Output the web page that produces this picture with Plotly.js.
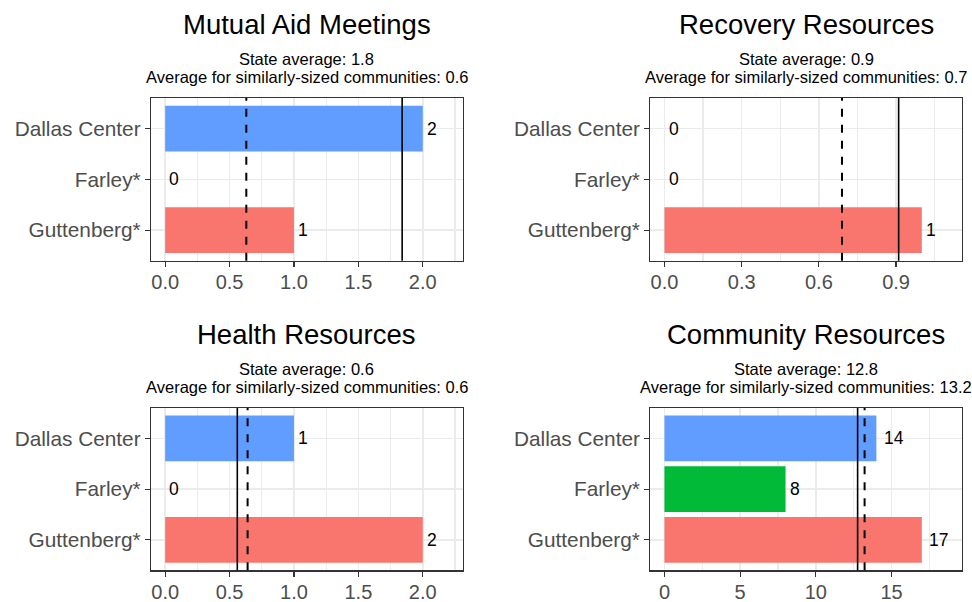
<!DOCTYPE html>
<html>
<head>
<meta charset="utf-8">
<script src="https://cdn.plot.ly/plotly-3.0.1.min.js"></script>
<style>html,body{margin:0;padding:0;background:#fff;}#chart{width:972px;height:602px;}</style>
</head>
<body>
<div id="chart"></div>
<script>
const categories = ['Dallas Center', 'Farley*', 'Guttenberg*'];
const barColors = ['#619CFF', '#00BA38', '#F8766D'];
const panelTitles = ['Mutual Aid Meetings', 'Recovery Resources', 'Health Resources', 'Community Resources'];
const mutualAid = [2, 0, 1];
const recovery = [0, 0, 1];
const health = [1, 0, 2];
const community = [14, 8, 17];
const stateAvg = [1.84, 0.91, 0.56, 12.76];
const similarAvg = [0.63, 0.69, 0.64, 13.22];
const tickSteps = [0.5, 0.3, 0.5, 5];

const panelValues = [mutualAid, recovery, health, community];

const FONT = 'Liberation Sans, Arial, sans-serif';
const W = 972, H = 602;
const xDomains = [[151 / W, 462.7 / W], [650.3 / W, 961.7 / W]];
const yDomains = [[1 - 260.7 / H, 1 - 98 / H], [1 - 570.3 / H, 1 - 408 / H]];
// pixel centers of title text lines
const titleY = [25.0, 334.4];
const sub1Y = [58.6, 368.6];
const sub2Y = [77.0, 387.0];

const data = [];
const layout = {
  width: W, height: H,
  margin: {l: 0, r: 0, t: 0, b: 0},
  paper_bgcolor: '#ffffff',
  plot_bgcolor: '#ffffff',
  showlegend: false,
  font: {family: FONT, color: '#000000'},
  annotations: [],
  shapes: []
};

panelValues.forEach((vals, i) => {
  const col = i % 2, row = Math.floor(i / 2);
  const sfx = i === 0 ? '' : String(i + 1);
  const xa = 'x' + sfx, ya = 'y' + sfx;
  const maxV = Math.max(...vals) * 1.1;
  data.push({
    type: 'bar',
    orientation: 'h',
    x: vals,
    y: categories,
    width: 0.9,
    marker: {color: barColors, line: {width: 0}},
    xaxis: xa, yaxis: ya,
    hoverinfo: 'skip'
  });
  const axisCommon = {
    showline: true, mirror: true, linecolor: '#333333', linewidth: 1.2,
    ticks: 'outside', ticklen: 5, tickwidth: 1.2, tickcolor: '#333333',
    showgrid: true, gridcolor: '#EBEBEB', gridwidth: 1.6,
    zeroline: false, fixedrange: true
  };
  layout['xaxis' + sfx] = Object.assign({}, axisCommon, {
    domain: xDomains[col],
    anchor: ya,
    range: [-0.05 * maxV, 1.05 * maxV],
    tick0: 0, dtick: tickSteps[i],
    tickformat: tickSteps[i] < 1 ? '.1f' : 'd',
    tickfont: {family: FONT, size: 20, color: '#4D4D4D'},
    ticklabelstandoff: -2,
    minor: {tick0: 0, dtick: tickSteps[i] / 2, showgrid: true, gridcolor: '#EBEBEB', gridwidth: 1.3, ticks: ''}
  });
  layout['yaxis' + sfx] = Object.assign({}, axisCommon, {
    domain: yDomains[row],
    anchor: xa,
    type: 'category',
    categoryorder: 'array',
    categoryarray: categories,
    range: [2.6, -0.6],
    tickfont: {family: FONT, size: 20.8, color: '#4D4D4D'},
    ticklabelstandoff: 0
  });
  // value labels
  vals.forEach((v, k) => {
    const s = String(v);
    layout.annotations.push({
      x: v, y: categories[k], xref: xa, yref: ya,
      text: s, showarrow: false, xanchor: 'left', yanchor: 'middle',
      xshift: 3.3 * s.length - 1,
      font: {family: FONT, size: 17.5, color: '#000000'}
    });
  });
  // reference lines
  layout.shapes.push({
    type: 'line', xref: xa, yref: ya + ' domain',
    x0: stateAvg[i], x1: stateAvg[i], y0: 0, y1: 1,
    line: {color: '#000000', width: 1.6}
  });
  layout.shapes.push({
    type: 'line', xref: xa, yref: ya + ' domain',
    x0: similarAvg[i], x1: similarAvg[i], y0: 0, y1: 1,
    line: {color: '#000000', width: 2, dash: '8px,8px'}
  });
  // titles
  const cx = (xDomains[col][0] + xDomains[col][1]) / 2;
  layout.annotations.push({
    x: cx, y: 1 - titleY[row] / H, xref: 'paper', yref: 'paper',
    text: panelTitles[i], showarrow: false, xanchor: 'center', yanchor: 'middle',
    font: {family: FONT, size: 27.5, color: '#000000'}
  });
  layout.annotations.push({
    x: cx, y: 1 - sub1Y[row] / H, xref: 'paper', yref: 'paper',
    text: 'State average: ' + stateAvg[i].toFixed(1), showarrow: false,
    xanchor: 'center', yanchor: 'middle',
    font: {family: FONT, size: 16.5, color: '#000000'}
  });
  layout.annotations.push({
    x: cx, y: 1 - sub2Y[row] / H, xref: 'paper', yref: 'paper',
    text: 'Average for similarly-sized communities: ' + similarAvg[i].toFixed(1), showarrow: false,
    xanchor: 'center', yanchor: 'middle',
    font: {family: FONT, size: 16.5, color: '#000000'}
  });
});

Plotly.newPlot('chart', data, layout, {displayModeBar: false, staticPlot: true});
</script>
</body>
</html>
